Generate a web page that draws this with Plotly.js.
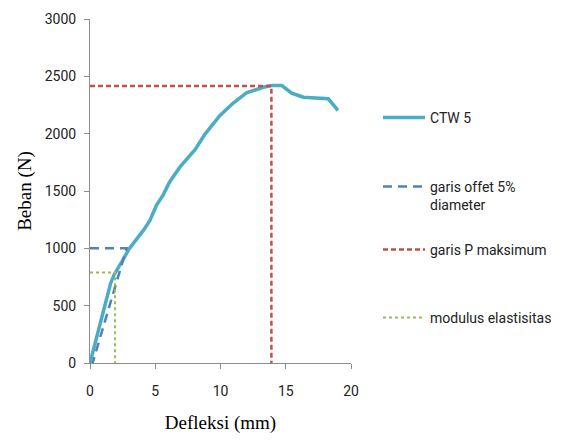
<!DOCTYPE html>
<html>
<head>
<meta charset="utf-8">
<script src="https://cdn.plot.ly/plotly-3.0.1.min.js"></script>
<style>html,body{margin:0;padding:0;background:#fff;}#chart{width:572px;height:446px;}</style>
</head>
<body>
<div id="chart"></div>
<script>
// CTW 5 load-deflection curve
const ctwX = [0, 0.82, 1.58, 1.84, 2.09, 2.5, 2.94, 3.6, 4.2, 4.6, 5.1, 5.6, 6.1, 6.9, 8.05, 8.8, 9.96, 10.98, 12.0, 13.28, 13.9, 14.7, 15.45, 16.35, 18.26, 19.0];
const ctwY = [0, 350, 696, 768, 811, 895, 985, 1080, 1174, 1246, 1377, 1464, 1579, 1710, 1861, 1994, 2159, 2267, 2357, 2405, 2420, 2420, 2353, 2318, 2304, 2203];
// offset line 5% diameter
const offX = [0, 2.8, 0.2];
const offY = [1000, 1000, 0];
// P maximum line
const pmaxX = [0, 13.9, 13.9];
const pmaxY = [2415, 2415, 0];
// modulus elastisitas line
const modX = [0, 1.92, 1.92];
const modY = [790, 790, 0];

const names = ['CTW 5', 'garis offet 5%<br>diameter', 'garis P maksimum', 'modulus elastisitas'];
const xTicks = [0, 5, 10, 15, 20];
const yTicks = [0, 500, 1000, 1500, 2000, 2500, 3000];

const traces = [
  {x: ctwX, y: ctwY, name: names[0], mode: 'lines', line: {color: '#4BACC6', width: 3.5}, legend: 'legend'},
  {x: offX, y: offY, name: names[1], mode: 'lines', line: {color: '#4F81BD', width: 2.5, dash: '9px,6px'}, legend: 'legend2'},
  {x: pmaxX, y: pmaxY, name: names[2], mode: 'lines', line: {color: '#C0504D', width: 2.5, dash: '5px,3px'}, legend: 'legend3'},
  {x: modX, y: modY, name: names[3], mode: 'lines', line: {color: '#9BBB59', width: 2, dash: 'dot'}, legend: 'legend4'}
];

const legFont = {family: 'Roboto, Arial, sans-serif', size: 14, color: '#222'};
function leg(yc, anchor) {
  return {xref: 'container', yref: 'container', x: 378/572, xanchor: 'left', y: 1 - yc/446, yanchor: anchor || 'middle',
          bgcolor: 'rgba(0,0,0,0)', font: legFont, itemwidth: 42, valign: 'top', tracegroupgap: 0};
}

const titleFont = {family: 'Liberation Serif, Times New Roman, serif', size: 19, color: '#000'};
const tickFont = {family: 'Roboto, Arial, sans-serif', size: 14, color: '#222'};

const layout = {
  width: 572, height: 446,
  margin: {l: 90, r: 221, t: 19, b: 83},
  paper_bgcolor: '#fff', plot_bgcolor: '#fff',
  showlegend: true,
  legend: leg(118),
  legend2: leg(196),
  legend3: leg(250),
  legend4: leg(318),
  xaxis: {
    range: [0, 20], tickvals: xTicks, ticktext: xTicks.map(String),
    showgrid: false, zeroline: false, showline: true, linecolor: '#8c8c8c', linewidth: 1,
    ticks: 'outside', ticklen: 5, tickcolor: '#8c8c8c', ticklabelstandoff: 10,
    tickfont: tickFont,
    title: {text: 'Defleksi (mm)', font: titleFont, standoff: 17}
  },
  yaxis: {
    range: [0, 3000], tickvals: yTicks, ticktext: yTicks.map(String),
    showgrid: false, zeroline: false, showline: true, linecolor: '#8c8c8c', linewidth: 1,
    ticks: 'outside', ticklen: 5, tickcolor: '#8c8c8c', ticklabelstandoff: 5,
    tickfont: tickFont,
    title: {text: 'Beban (N)', font: titleFont, standoff: 8}
  }
};

Plotly.newPlot('chart', traces, layout, {displayModeBar: false, staticPlot: true});
</script>
</body>
</html>
